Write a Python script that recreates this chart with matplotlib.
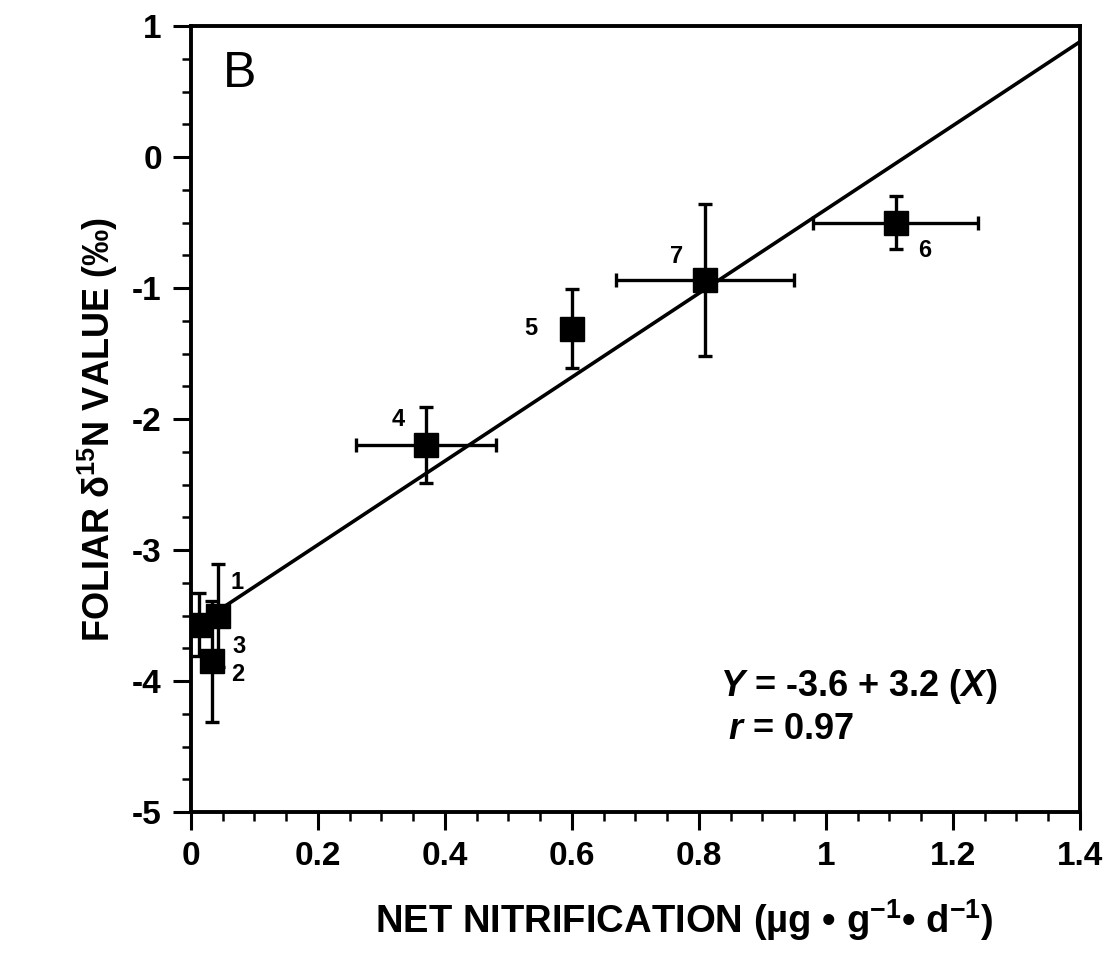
import numpy as np
import matplotlib
matplotlib.use("Agg")
import matplotlib.pyplot as plt
from matplotlib.ticker import MultipleLocator

plt.rcParams['font.family'] = ['Liberation Sans', 'DejaVu Sans']
plt.rcParams['mathtext.fontset'] = 'custom'
plt.rcParams['mathtext.rm'] = 'Liberation Sans:bold'
plt.rcParams['mathtext.bf'] = 'Liberation Sans:bold'
plt.rcParams['mathtext.it'] = 'Liberation Sans:bold:italic'
plt.rcParams['axes.unicode_minus'] = False

# site data: net nitrification (x) vs foliar d15N (y)
site_ids = ['1', '2', '3', '4', '5', '6', '7']
nitrif = [0.043, 0.033, 0.012, 0.37, 0.60, 1.11, 0.81]
nitrif_err = [0.0, 0.0, 0.0, 0.11, 0.0, 0.13, 0.14]
d15n = [-3.50, -3.85, -3.57, -2.20, -1.31, -0.50, -0.94]
d15n_err = [0.39, 0.46, 0.24, 0.29, 0.30, 0.20, 0.58]

# label offsets (data units) for the site numbers
label_dx = [0.030, 0.040, 0.063, -0.044, -0.065, 0.046, -0.045]
label_dy = [0.25, -0.10, -0.17, 0.20, 0.0, -0.21, 0.18]

# regression Y = -3.6 + 3.2 X
intercept, slope = -3.6, 3.2
fit_x = np.array([0.05, 1.4])

fig = plt.figure(figsize=(11.07, 9.56), dpi=100)
ax = fig.add_axes([0.1725, 0.1506, 0.8031, 0.8222])

ax.plot(fit_x, intercept + slope * fit_x, color='black', lw=2.6, zorder=2)

ax.errorbar(nitrif, d15n, xerr=nitrif_err, yerr=d15n_err, fmt='s',
            color='black', ms=17, elinewidth=2.4, capsize=5, capthick=2.4,
            zorder=3)

for i, s in enumerate(site_ids):
    ax.text(nitrif[i] + label_dx[i], d15n[i] + label_dy[i], s,
            fontsize=17, fontweight='bold', ha='center', va='center')

ax.text(0.076, 0.63, 'B', fontsize=36, ha='center', va='center')
ax.text(0.833, -4.04, r'$\mathit{Y}$ = -3.6 + 3.2 ($\mathit{X}$)',
        fontsize=26, fontweight='bold', ha='left', va='center')
ax.text(0.845, -4.37, r'$\mathit{r}$ = 0.97',
        fontsize=26, fontweight='bold', ha='left', va='center')

ax.set_xlim(0, 1.4)
ax.set_ylim(-5, 1)
ax.xaxis.set_major_locator(MultipleLocator(0.2))
ax.xaxis.set_minor_locator(MultipleLocator(0.05))
ax.yaxis.set_major_locator(MultipleLocator(1))
ax.yaxis.set_minor_locator(MultipleLocator(0.25))
ax.set_xticks([0, 0.2, 0.4, 0.6, 0.8, 1.0, 1.2, 1.4])
ax.set_xticklabels(['0', '0.2', '0.4', '0.6', '0.8', '1', '1.2', '1.4'])

ax.tick_params(which='both', direction='out', top=False, right=False,
               width=2.2, labelsize=24)
ax.tick_params(which='major', length=13, pad=8)
ax.tick_params(which='minor', length=6.5, width=1.8)
for lbl in ax.get_xticklabels() + ax.get_yticklabels():
    lbl.set_fontweight('bold')
for sp in ax.spines.values():
    sp.set_linewidth(2.8)

ax.set_xlabel('NET NITRIFICATION (µg • g$^{-1}$• d$^{-1}$)',
              fontsize=27.5, fontweight='bold')
ax.set_ylabel('FOLIAR δ$^{15}$N VALUE (‰)',
              fontsize=26, fontweight='bold')
ax.xaxis.set_label_coords(0.555, -0.108)
ax.yaxis.set_label_coords(-0.080, 0.486)

fig.savefig('out.png', dpi=100)
